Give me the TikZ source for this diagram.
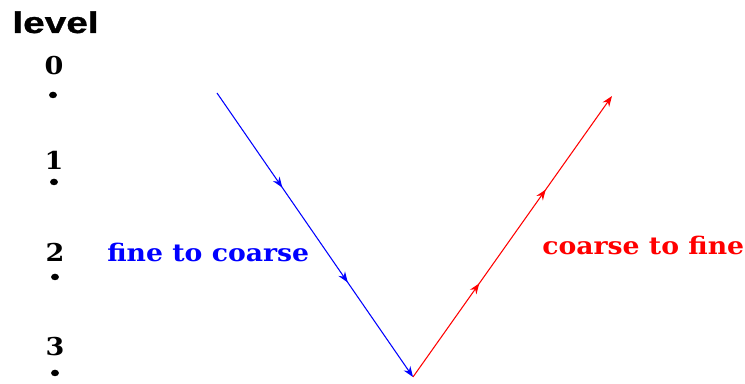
\documentclass[tikz,border=0pt]{standalone}
\usepackage{fontspec}
\usepackage{tikz}
\usetikzlibrary{arrows.meta,decorations.markings}
\newfontfamily\lvlfont[FakeStretch=1.3,FakeBold=1]{Liberation Sans}
\newfontfamily\serfont[FakeStretch=1.1]{DejaVu Serif}

\begin{document}
\begin{tikzpicture}[
  x=0.02cm, y=-0.02cm,
  txt/.style={inner sep=0pt, anchor=base west},
  num/.style={inner sep=0pt, anchor=base, font=\serfont\bfseries\fontsize{14pt}{16pt}\selectfont},
  lbl/.style={txt, font=\serfont\bfseries\fontsize{13.8pt}{16pt}\selectfont},
  tip/.style={-{Stealth[length=6pt,width=4.5pt]}, line width=0.6pt},
  midtips/.style={postaction={decorate}, decoration={markings,
    mark=at position 0.333 with {\arrow{Stealth[length=6pt,width=4.5pt]}},
    mark=at position 0.667 with {\arrow{Stealth[length=6pt,width=4.5pt]}}}}]
  \useasboundingbox (0,0) rectangle (745,384);
  % levels
  \node[txt, font=\lvlfont\bfseries\fontsize{17pt}{19pt}\selectfont] (title) at (12,33) {level};
  \node[num] (l0) at (54,75) {0};
  \node[num] (l1) at (54,170) {1};
  \node[num] (l2) at (55,262) {2};
  \node[num] (l3) at (55,356) {3};
  \fill (53,95) ellipse [x radius=0.08cm, y radius=0.065cm];
  \fill (54,182) ellipse [x radius=0.08cm, y radius=0.065cm];
  \fill (55,277) ellipse [x radius=0.08cm, y radius=0.065cm];
  \fill (55,373) ellipse [x radius=0.08cm, y radius=0.065cm];
  % V cycle
  \coordinate (fine0) at (217,93);
  \coordinate (bottom) at (413,377);
  \coordinate (fine1) at (612,96);
  \draw[tip, blue, midtips] (fine0) -- (bottom);
  \draw[tip, red, midtips] (bottom) -- (fine1);
  % labels
  \node[lbl, text=blue] (down) at (107,262) {fine to coarse};
  \node[lbl, text=red] (up) at (542,255) {coarse to fine};
\end{tikzpicture}
\end{document}
